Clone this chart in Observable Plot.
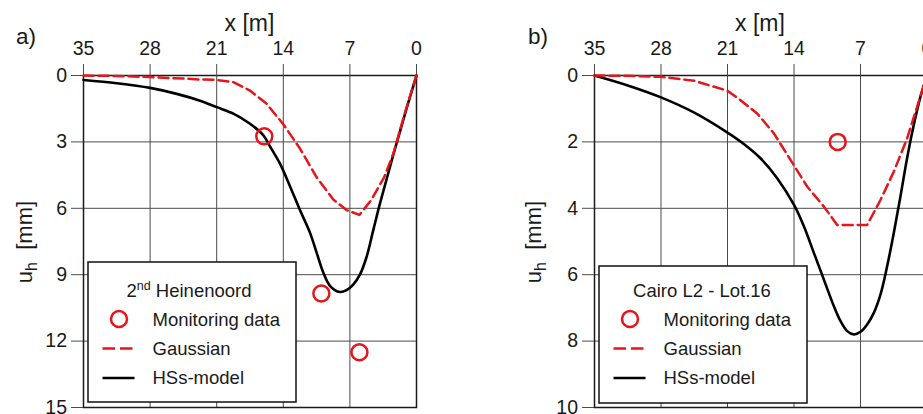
<!DOCTYPE html>
<html><head><meta charset="utf-8">
<script src="https://cdn.jsdelivr.net/npm/d3@7"></script>
<script src="https://cdn.jsdelivr.net/npm/@observablehq/plot@0.6"></script>
<style>
html,body{margin:0;padding:0;background:#fff;overflow:hidden;}
#wrap{position:relative;width:923px;height:414px;overflow:hidden;background:#fff;}
#wrap svg{position:absolute;top:0;}
</style></head><body><div id="wrap"></div>
<script>
// ---- data ----
const xTicks = [35, 28, 21, 14, 7, 0];
const yTicksA = [0, 3, 6, 9, 12, 15];
const yTicksB = [0, 2, 4, 6, 8, 10];

// panel a) 2nd Heinenoord
const monA_x = [16, 10, 6];
const monA_y = [2.75, 9.85, 12.5];
const gaussA_x = [35, 31.5, 28, 24.5, 22.75, 21, 19.25, 17.5, 15.75, 14, 12.25, 10.5, 8.75, 7.35, 6.0, 4.8, 3.4, 3.0, 2.45, 1.75, 1.05, 0];
const gaussA_y = [0, 0.02, 0.07, 0.14, 0.18, 0.2, 0.3, 0.68, 1.28, 2.2, 3.3, 4.6, 5.6, 6.08, 6.3, 5.65, 4.6, 4.15, 3.55, 2.5, 1.45, 0];
const hssA_x = [35, 31.5, 28, 25.2, 22.75, 21, 19.25, 17.5, 16.1, 15.4, 14.35, 13.3, 12.25, 11.2, 10.5, 9.8, 9.1, 8.05, 7.35, 6.65, 5.95, 5.25, 4.55, 3.85, 3.15, 2.45, 1.75, 1.05, 0];
const hssA_y = [0.2, 0.35, 0.56, 0.83, 1.14, 1.43, 1.72, 2.18, 2.7, 3.2, 3.98, 5.0, 6.08, 7.1, 8.0, 8.9, 9.5, 9.78, 9.7, 9.45, 9.0, 8.2, 7.0, 5.8, 4.7, 3.6, 2.55, 1.5, 0];

// panel b) Cairo L2 - Lot.16
const monB_x = [9.4];
const monB_y = [2.0];
const gaussB_x = [35, 31.5, 28, 24.5, 21, 19.6, 17.85, 16.1, 14.35, 12.6, 10.85, 9.45, 6.3, 4.9, 3.5, 2.1, 1.05, 0];
const gaussB_y = [0, 0.01, 0.04, 0.16, 0.46, 0.75, 1.15, 1.75, 2.55, 3.35, 3.95, 4.5, 4.5, 3.75, 2.9, 1.9, 0.95, 0];
const hssB_x = [35, 31.5, 28, 24.5, 21, 19.25, 17.5, 15.75, 14, 12.95, 11.9, 10.85, 9.8, 9.1, 8.4, 7.7, 7.0, 6.3, 5.6, 4.9, 4.2, 3.5, 2.8, 2.1, 1.4, 0.7, 0];
const hssB_y = [0, 0.3, 0.66, 1.12, 1.72, 2.07, 2.5, 3.1, 3.9, 4.55, 5.35, 6.15, 6.95, 7.4, 7.7, 7.8, 7.72, 7.5, 7.15, 6.6, 5.75, 4.75, 3.65, 2.5, 1.5, 0.65, 0];

const legendLabels = ["Monitoring data", "Gaussian", "HSs-model"];
const titleA = "Heinenoord";
const titleB = "Cairo L2 - Lot.16";

// ---- drawing ----
const FONT = '"Liberation Sans", Arial, sans-serif';
const RED = "#e8141b";
const GRID = "#4a4a4a";
const wrap = document.getElementById("wrap");
const pts = (xs, ys) => xs.map((x, i) => ({x, y: ys[i]}));

function panel({left, width, mLeft, mRight, yTicks, yMax, gauss, hss, mon}) {
  const p = Plot.plot({
    width, height: 414,
    marginLeft: mLeft, marginRight: mRight, marginTop: 75, marginBottom: 7,
    style: {fontFamily: FONT, fontSize: "19.5px", color: "#1a1a1a", background: "transparent", overflow: "visible"},
    x: {domain: [35, 0]},
    y: {domain: [0, yMax], reverse: true},
    marks: [
      Plot.gridX(xTicks, {stroke: GRID, strokeOpacity: 1, strokeWidth: 1}),
      Plot.gridY(yTicks, {stroke: GRID, strokeOpacity: 1, strokeWidth: 1}),
      Plot.frame({stroke: "#1a1a1a", strokeWidth: 1.5}),
      Plot.axisX(xTicks, {anchor: "top", tickSize: 12, tickPadding: 9, stroke: GRID, label: null, tickFormat: d => String(d)}),
      Plot.axisY(yTicks, {anchor: "left", tickSize: 12, tickPadding: 4.5, stroke: GRID, label: null, tickFormat: d => String(d)}),
      Plot.line(hss, {x: "x", y: "y", stroke: "#000", strokeWidth: 2.6, curve: "catmull-rom"}),
      Plot.line(gauss, {x: "x", y: "y", stroke: RED, strokeWidth: 2.5, strokeDasharray: "10,5"}),
      Plot.dot(mon, {x: "x", y: "y", r: 8, stroke: RED, strokeWidth: 2.5, fill: "none"})
    ]
  });
  p.style.left = left + "px";
  wrap.append(p);
}

panel({left: 0, width: 460, mLeft: 83, mRight: 44, yTicks: yTicksA, yMax: 15,
  gauss: pts(gaussA_x, gaussA_y), hss: pts(hssA_x, hssA_y), mon: pts(monA_x, monA_y)});
panel({left: 510, width: 430, mLeft: 84, mRight: 13.5, yTicks: yTicksB, yMax: 10,
  gauss: pts(gaussB_x, gaussB_y), hss: pts(hssB_x, hssB_y), mon: pts(monB_x, monB_y)});

// overlay: panel letters, axis labels, legends
const ov = d3.create("svg").attr("width", 923).attr("height", 414)
  .style("left", "0px").style("font-family", FONT).style("fill", "#1a1a1a");

function labels(letter, lx, cx, ylx) {
  ov.append("text").attr("x", lx).attr("y", 44).attr("font-size", 22.5).text(letter);
  ov.append("text").attr("x", cx).attr("y", 31).attr("font-size", 23).attr("text-anchor", "middle").text("x [m]");
  const t = ov.append("text").attr("transform", `translate(${ylx},242) rotate(-90)`)
    .attr("font-size", 22).attr("text-anchor", "middle");
  t.append("tspan").text("u");
  t.append("tspan").attr("font-size", 16).attr("dy", 5).text("h");
  t.append("tspan").attr("dy", -5).text("\u00a0\u00a0[mm]");
}
labels("a)", 16, 249.5, 32);
labels("b)", 528, 760, 541);

function legend(bx, by, bw, bh, title, sup, tcx) {
  const g = ov.append("g").attr("font-size", 18.5);
  g.append("rect").attr("x", bx).attr("y", by).attr("width", bw).attr("height", bh)
    .attr("fill", "#fff").attr("stroke", "#111").attr("stroke-width", 1.5);
  const t = g.append("text").attr("x", tcx).attr("y", 296.5).attr("text-anchor", "middle");
  if (sup) {
    t.append("tspan").text("2");
    t.append("tspan").attr("font-size", 12.5).attr("dy", -7).text("nd");
    t.append("tspan").attr("dy", 7).text("\u00a0" + title);
  } else t.text(title);
  const sx = bx + 14.5, tx = bx + 64.5;
  g.append("circle").attr("cx", bx + 31).attr("cy", 319).attr("r", 8)
    .attr("fill", "none").attr("stroke", RED).attr("stroke-width", 2.5);
  g.append("line").attr("x1", sx).attr("x2", sx + 30).attr("y1", 348.5).attr("y2", 348.5)
    .attr("stroke", RED).attr("stroke-width", 2.5).attr("stroke-dasharray", "12.5,5");
  g.append("line").attr("x1", sx).attr("x2", sx + 32).attr("y1", 378).attr("y2", 378)
    .attr("stroke", "#000").attr("stroke-width", 2.5);
  [325.5, 355, 384].forEach((y, i) =>
    g.append("text").attr("x", tx).attr("y", y).text(legendLabels[i]));
}
legend(88, 262, 208, 140, titleA, true, 189);
legend(599, 266, 208, 137, titleB, false, 702);

wrap.append(ov.node());
</script></body></html>
